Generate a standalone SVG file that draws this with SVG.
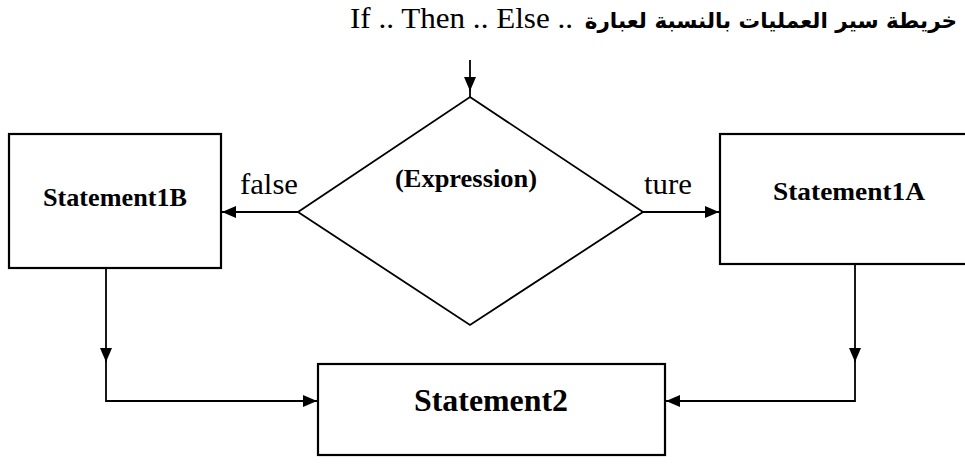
<svg xmlns="http://www.w3.org/2000/svg" width="965" height="467" viewBox="0 0 965 467">
<style>
.box{fill:#fff;stroke:#000;stroke-width:2.2}
.ln{fill:none;stroke:#000;stroke-width:1.8}
.t{font-family:"Liberation Serif","Times New Roman",serif;fill:#000}
.b{font-weight:bold}
</style>
<defs>
<marker id="ah" viewBox="0 0 14 12" refX="14" refY="6" markerWidth="14" markerHeight="12" markerUnits="userSpaceOnUse" orient="auto">
<path d="M0,0 L14,6 L0,12 Z" fill="#000"/>
</marker>
</defs>
<g id="title">
<text class="t" x="350" y="28" font-size="30" textLength="223" lengthAdjust="spacingAndGlyphs">If .. Then .. Else ..</text>
<text x="957" y="28" font-size="21.5" font-weight="bold" text-anchor="end" font-family="'DejaVu Sans','Noto Sans',sans-serif">خريطة سير العمليات بالنسبة لعبارة</text>
</g>
<g id="connectors">
<path class="ln" d="M470,60 V91" marker-end="url(#ah)"/>
<path class="ln" d="M470,90 V97"/>
<path class="ln" d="M298,212 H222" marker-end="url(#ah)"/>
<path class="ln" d="M643,212 H719" marker-end="url(#ah)"/>
<path class="ln" d="M106,268 V362" marker-end="url(#ah)"/>
<path class="ln" d="M106,360 V401 H317" marker-end="url(#ah)"/>
<path class="ln" d="M855,264 V362" marker-end="url(#ah)"/>
<path class="ln" d="M855,360 V401 H666" marker-end="url(#ah)"/>
<text class="t" x="240" y="194" font-size="29" textLength="58" lengthAdjust="spacingAndGlyphs">false</text>
<text class="t" x="644" y="194" font-size="29" textLength="48" lengthAdjust="spacingAndGlyphs">ture</text>
</g>
<g id="decision">
<polygon class="box" points="470,97 643,212 470,325 298,212" style="stroke-width:1.8"/>
<text class="t b" x="466" y="187" font-size="26" text-anchor="middle" textLength="142" lengthAdjust="spacingAndGlyphs">(Expression)</text>
</g>
<g id="statement1B">
<rect class="box" x="9" y="134" width="212" height="134"/>
<text class="t b" x="115" y="206" font-size="26" text-anchor="middle" textLength="144" lengthAdjust="spacingAndGlyphs">Statement1B</text>
</g>
<g id="statement1A">
<rect class="box" x="720" y="134" width="260" height="130"/>
<text class="t b" x="849" y="200" font-size="26" text-anchor="middle" textLength="152" lengthAdjust="spacingAndGlyphs">Statement1A</text>
</g>
<g id="statement2">
<rect class="box" x="318" y="364" width="347" height="91"/>
<text class="t b" x="491" y="411" font-size="31" text-anchor="middle" textLength="154" lengthAdjust="spacingAndGlyphs">Statement2</text>
</g>
</svg>
